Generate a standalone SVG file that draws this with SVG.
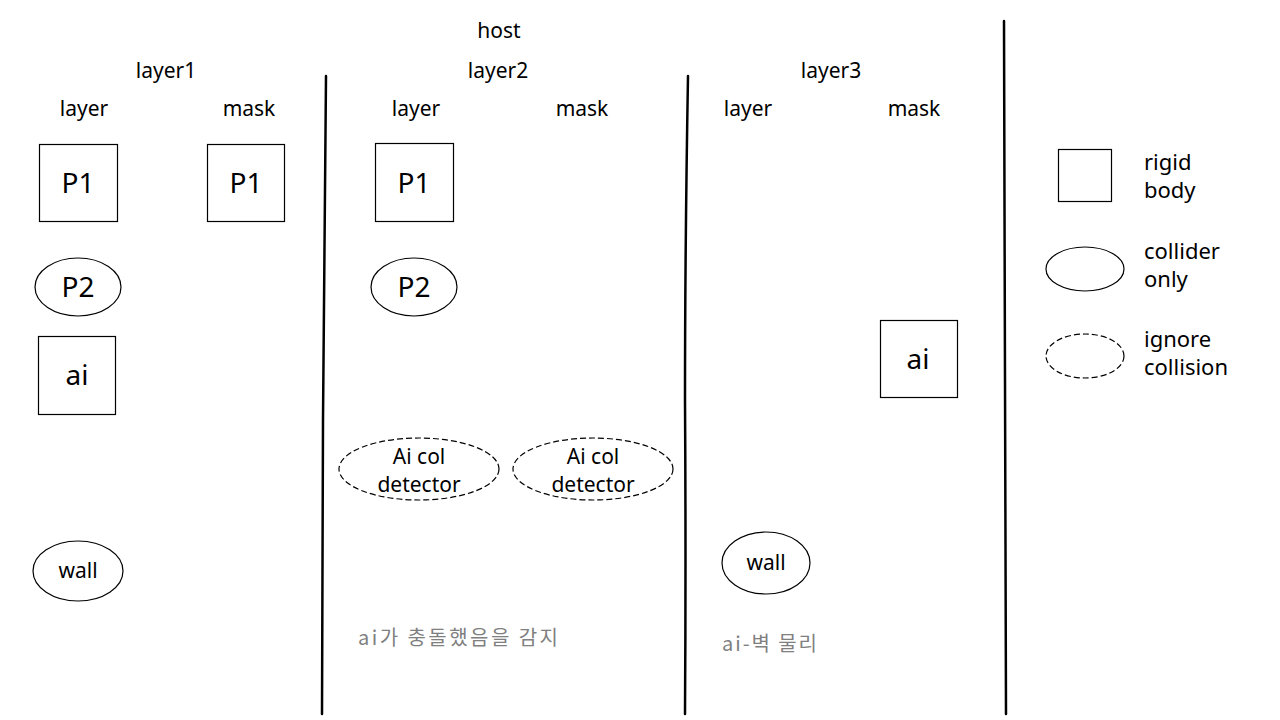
<svg xmlns="http://www.w3.org/2000/svg" width="1280" height="720" viewBox="0 0 1280 720">
<style>
text{font-family:"Noto Sans","Noto Sans CJK KR",sans-serif;fill:#000;text-anchor:middle}
.h{font-size:21px}
.big{font-size:28px}
.mid{font-size:21px}
.leg{font-size:22px;text-anchor:start}
.note{font-size:20px;fill:#808080;text-anchor:start;font-family:"Noto Sans CJK KR","Noto Sans",sans-serif}
.box{fill:#fff;stroke:#000;stroke-width:1.2}
.ell{fill:#fff;stroke:#000;stroke-width:1.2}
.dash{fill:#fff;stroke:#000;stroke-width:1.2;stroke-dasharray:6 3}
.div{fill:none;stroke:#000;stroke-width:2.5;stroke-linecap:round}
</style>
<rect width="1280" height="720" fill="#fff"/>
<g id="dividers">
<path class="div" d="M326 76 Q324 300 323 420 Q322 560 322 714"/>
<path class="div" d="M688 76 Q685 250 685 400 Q686 560 685 714"/>
<path class="div" d="M1004 21 Q1005 200 1005 380 Q1005 560 1006 714"/>
</g>
<g id="headers">
<text class="h" x="499" y="38">host</text>
<text class="h" x="166" y="78">layer1</text>
<text class="h" x="498" y="78">layer2</text>
<text class="h" x="831" y="78">layer3</text>
<text class="h" x="84" y="116">layer</text>
<text class="h" x="249" y="116">mask</text>
<text class="h" x="416" y="116">layer</text>
<text class="h" x="582" y="116">mask</text>
<text class="h" x="748" y="116">layer</text>
<text class="h" x="914" y="116">mask</text>
</g>
<g id="l1-p1"><rect class="box" x="39.5" y="144.5" width="78" height="77"/><text class="big" x="78" y="193">P1</text></g>
<g id="l1m-p1"><rect class="box" x="207.5" y="144.5" width="77" height="77"/><text class="big" x="246" y="193">P1</text></g>
<g id="l2-p1"><rect class="box" x="375.5" y="143.5" width="78" height="78"/><text class="big" x="414" y="193">P1</text></g>
<g id="l1-p2"><ellipse class="ell" cx="78" cy="287" rx="43" ry="29"/><text class="big" x="78" y="297">P2</text></g>
<g id="l2-p2"><ellipse class="ell" cx="414" cy="287" rx="43" ry="29"/><text class="big" x="414" y="297">P2</text></g>
<g id="l1-ai"><rect class="box" x="38.5" y="336.5" width="77" height="78"/><text class="big" x="77" y="385">ai</text></g>
<g id="l3m-ai"><rect class="box" x="880.5" y="320.5" width="77" height="77"/><text class="big" x="918" y="369">ai</text></g>
<g id="l2-det"><ellipse class="dash" cx="419" cy="469" rx="80" ry="31"/><text class="mid" x="419" y="464">Ai col</text><text class="mid" x="419" y="492">detector</text></g>
<g id="l2m-det"><ellipse class="dash" cx="593" cy="469" rx="80" ry="31"/><text class="mid" x="593" y="464">Ai col</text><text class="mid" x="593" y="492">detector</text></g>
<g id="l1-wall"><ellipse class="ell" cx="78" cy="571" rx="45" ry="30"/><text class="mid" x="78" y="578">wall</text></g>
<g id="l3-wall"><ellipse class="ell" cx="766" cy="563" rx="44" ry="31"/><text class="mid" x="766" y="570">wall</text></g>
<g id="notes">
<text class="note" x="358" y="645" textLength="200" lengthAdjust="spacing">ai가 충돌했음을 감지</text>
<text class="note" x="722" y="651" textLength="95" lengthAdjust="spacing">ai-벽 물리</text>
</g>
<g id="legend-rigid"><rect class="box" x="1058.5" y="149.5" width="53" height="52"/><text class="leg" x="1144" y="170">rigid</text><text class="leg" x="1144" y="198">body</text></g>
<g id="legend-collider"><ellipse class="ell" cx="1085" cy="269" rx="39" ry="22"/><text class="leg" x="1144" y="259">collider</text><text class="leg" x="1144" y="287">only</text></g>
<g id="legend-ignore"><ellipse class="dash" cx="1085" cy="356" rx="39" ry="22"/><text class="leg" x="1144" y="347">ignore</text><text class="leg" x="1144" y="375">collision</text></g>
</svg>
